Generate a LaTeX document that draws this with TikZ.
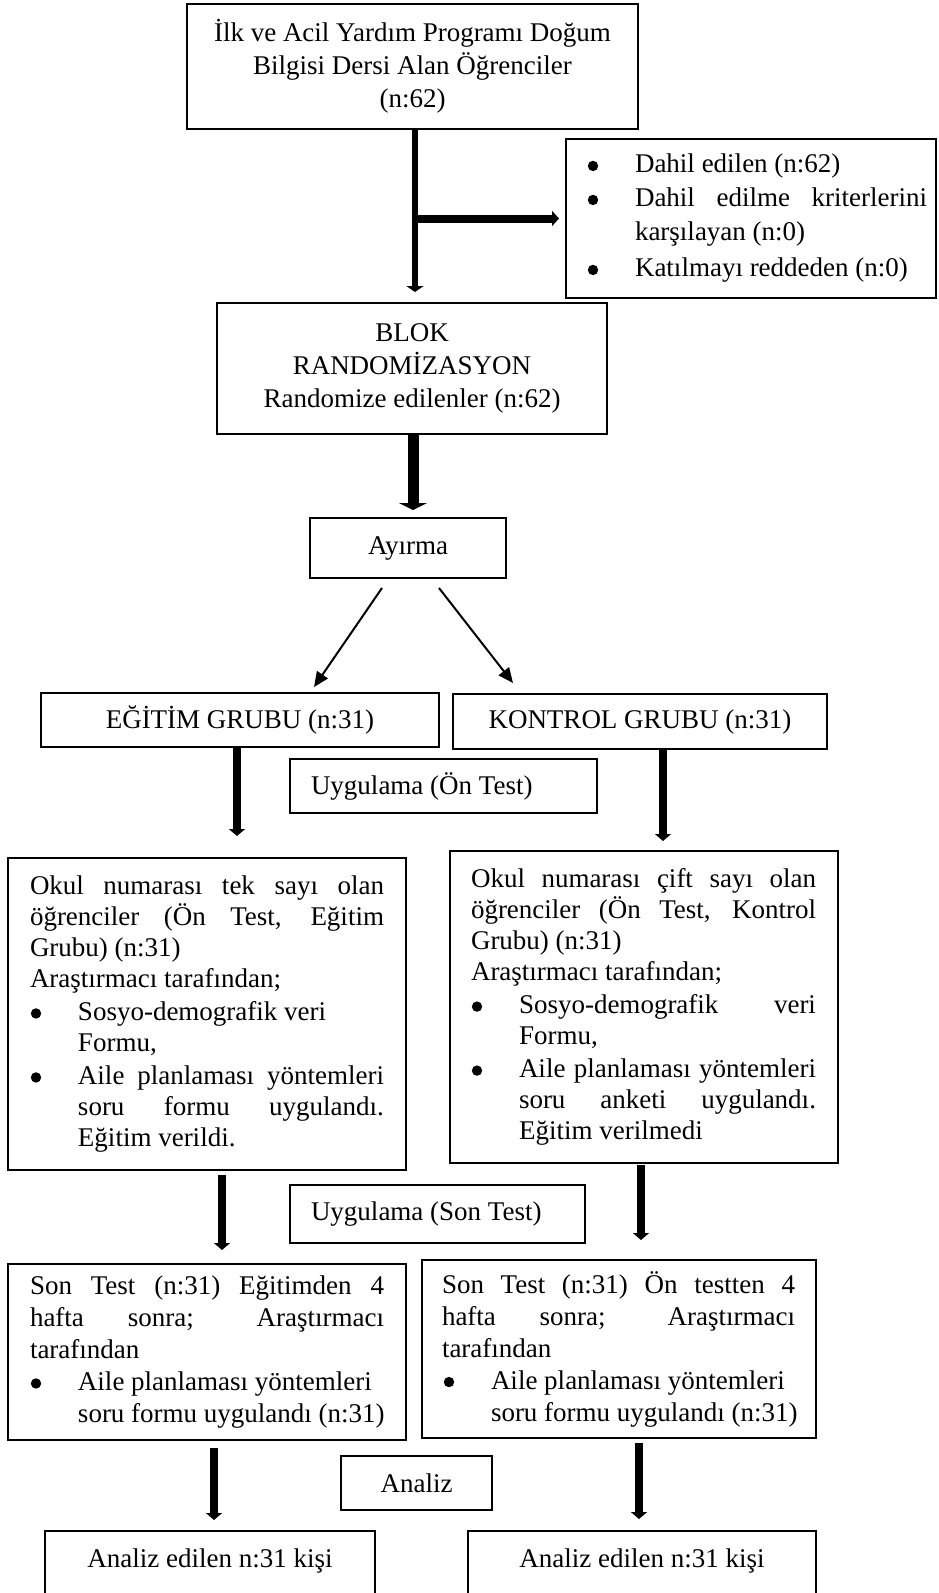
\documentclass[tikz,border=0pt]{standalone}
\usepackage{fontspec}
\setmainfont{Liberation Serif}
\usetikzlibrary{arrows.meta,calc}
\newcommand{\SL}[2]{\makebox[#1pt][s]{#2}}
\newcommand{\LA}[3]{\makebox[#1pt][l]{\hspace*{#2pt}#3}}
\newcommand{\Bul}{\makebox[0pt][c]{\tikz[baseline=0pt]\fill[black] (0pt,7pt) circle[radius=5.2pt];}}
\newcommand{\BI}[1]{\Bul\hspace*{#1pt}}
\begin{document}
\begin{tikzpicture}[x=1pt,y=-1pt,
  box/.style={draw, line width=2pt, rectangle, inner sep=0pt, align=center,
    font=\fontsize{27}{31}\selectfont},
  arrA/.style={line width=8pt, -{Triangle[width=16pt,length=7pt]}},
  arrTop/.style={line width=6pt, -{Triangle[width=17pt,length=6pt]}},
  arrBranch/.style={line width=8pt, -{Triangle[width=15pt,length=7pt]}},
  arrBig/.style={line width=11pt, -{Triangle[width=28pt,length=7pt]}},
  arrThin/.style={line width=2pt, -{Triangle[width=13pt,length=15pt]}}]
\useasboundingbox (0,0) rectangle (939,1593);
\clip (0,0) rectangle (939,1593);

% boxes
\node[box, minimum width=451, minimum height=125, font=\fontsize{27}{33}\selectfont] (top) at (412.5,66.5)
  {İlk ve Acil Yardım Programı Doğum\\Bilgisi Dersi Alan Öğrenciler\\(n:62)};
\node[box, minimum width=370, minimum height=159, align=left, font=\fontsize{27}{34}\selectfont] (excl) at (751,218.5)
  {\LA{370}{27}{\BI{42}Dahil edilen (n:62)}\\
   \LA{370}{27}{\BI{42}\SL{292}{Dahil edilme kriterlerini}}\\
   \LA{370}{69}{karşılayan (n:0)}\\[2pt]
   \LA{370}{27}{\BI{42}Katılmayı reddeden (n:0)}};
\node[box, minimum width=390, minimum height=131, font=\fontsize{27}{33}\selectfont] (blok) at (412,368.5)
  {BLOK\\RANDOMİZASYON\\Randomize edilenler (n:62)};
\node[box, minimum width=196, minimum height=60] (ayirma) at (408,548) {Ayırma};
\node[box, minimum width=398, minimum height=54] (egitim) at (240,720) {EĞİTİM GRUBU (n:31)};
\node[box, minimum width=374, minimum height=55] (kontrol) at (640,721.5) {KONTROL GRUBU (n:31)};
\node[box, minimum width=307, minimum height=54, align=left] (ontest) at (443.5,786)
  {\LA{307}{21}{Uygulama (Ön Test)}};

\node[box, minimum width=398, minimum height=312, align=left] (okulL) at (207,1014)
  {\LA{398}{22}{\SL{354}{Okul numarası tek sayı olan}}\\
   \LA{398}{22}{\SL{354}{öğrenciler (Ön Test, Eğitim}}\\
   \LA{398}{22}{Grubu) (n:31)}\\
   \LA{398}{22}{Araştırmacı tarafından;}\\[2pt]
   \LA{398}{28}{\BI{42}Sosyo-demografik veri}\\
   \LA{398}{70}{Formu,}\\[2pt]
   \LA{398}{28}{\BI{42}\SL{306}{Aile planlaması yöntemleri}}\\
   \LA{398}{70}{\SL{306}{soru formu uygulandı.}}\\
   \LA{398}{70}{Eğitim verildi.}};
\node[box, minimum width=388, minimum height=312, align=left] (okulR) at (644,1007)
  {\LA{388}{21}{\SL{345}{Okul numarası çift sayı olan}}\\
   \LA{388}{21}{\SL{345}{öğrenciler (Ön Test, Kontrol}}\\
   \LA{388}{21}{Grubu) (n:31)}\\
   \LA{388}{21}{Araştırmacı tarafından;}\\[2pt]
   \LA{388}{27}{\BI{42}\SL{297}{Sosyo-demografik veri}}\\
   \LA{388}{69}{Formu,}\\[2pt]
   \LA{388}{27}{\BI{42}\SL{297}{Aile planlaması yöntemleri}}\\
   \LA{388}{69}{\SL{297}{soru anketi uygulandı.}}\\
   \LA{388}{69}{Eğitim verilmedi}};
\node[box, minimum width=295, minimum height=58, align=left] (sontest) at (437.5,1214)
  {\LA{295}{21}{Uygulama (Son Test)}};

\node[box, minimum width=398, minimum height=176, align=left, font=\fontsize{27}{32}\selectfont] (sonL) at (207,1352)
  {\LA{398}{22}{\SL{354}{Son Test (n:31) Eğitimden 4}}\\
   \LA{398}{22}{\SL{354}{hafta sonra; Araştırmacı}}\\
   \LA{398}{22}{tarafından}\\
   \LA{398}{28}{\BI{42}Aile planlaması yöntemleri}\\
   \LA{398}{70}{soru formu uygulandı (n:31)}};
\node[box, minimum width=394, minimum height=178, align=left, font=\fontsize{27}{32}\selectfont] (sonR) at (619,1349)
  {\LA{394}{20}{\SL{353}{Son Test (n:31) Ön testten 4}}\\
   \LA{394}{20}{\SL{353}{hafta sonra; Araştırmacı}}\\
   \LA{394}{20}{tarafından}\\
   \LA{394}{27}{\BI{42}Aile planlaması yöntemleri}\\
   \LA{394}{69}{soru formu uygulandı (n:31)}};
\node[box, minimum width=151, minimum height=54] (analiz) at (416.5,1483) {Analiz};
\node[box, minimum width=330, text height=36pt, text depth=100pt, anchor=north] (anaL) at (210,1530)
  {Analiz edilen n:31 kişi};
\node[box, minimum width=348, text height=36pt, text depth=100pt, anchor=north] (anaR) at (642,1530)
  {Analiz edilen n:31 kişi};

% connectors
\coordinate (v1) at ([xshift=2.5pt]top.south);
\draw[arrTop, shorten >=10pt] (v1) -- (v1 |- blok.north);
\draw[arrBranch, shorten >=6pt] (v1 |- excl.west) -- (excl.west);
\draw[arrBig, shorten >=7pt] ([xshift=1pt]blok.south) -- ([xshift=1pt]blok.south |- ayirma.north);

\coordinate (s1) at ($(ayirma.south)+(-26,9)$);
\coordinate (e1) at ($(egitim.north)+(74,-5)$);
\coordinate (s2) at ($(ayirma.south)+(31,9)$);
\coordinate (e2) at ($(kontrol.north)+(-127,-10)$);
\draw[arrThin] (s1) -- (e1);
\draw[arrThin] (s2) -- (e2);

\draw[arrA, shorten >=21pt] ([xshift=-3pt]egitim.south) -- ([xshift=-3pt]egitim.south |- okulL.north);
\draw[arrA, shorten >=9pt] ([xshift=23pt]kontrol.south) -- ([xshift=23pt]kontrol.south |- okulR.north);
\draw[arrA, shorten <=4pt, shorten >=13pt] ([xshift=15pt]okulL.south) -- ([xshift=15pt]okulL.south |- sonL.north);
\draw[arrA, shorten <=1pt, shorten >=19pt] ([xshift=-3pt]okulR.south) -- ([xshift=-3pt]okulR.south |- sonR.north);
\draw[arrA, shorten <=7pt, shorten >=10pt] ([xshift=7pt]sonL.south) -- ([xshift=7pt]sonL.south |- anaL.north);
\draw[arrA, shorten <=4pt, shorten >=11pt] ([xshift=20pt]sonR.south) -- ([xshift=20pt]sonR.south |- anaR.north);
\end{tikzpicture}
\end{document}
